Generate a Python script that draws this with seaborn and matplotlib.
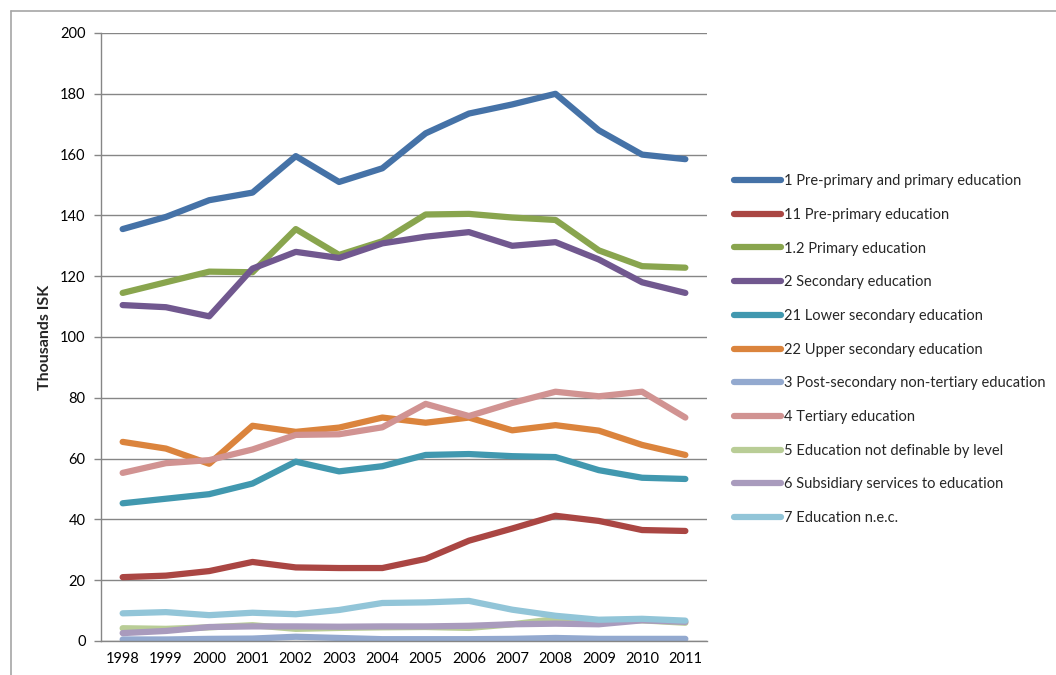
import numpy as np
import pandas as pd
import matplotlib.pyplot as plt
import seaborn as sns
from matplotlib.lines import Line2D

sns.set_theme(style="white")
plt.rcParams['font.family'] = ['Lato', 'DejaVu Sans']

years = list(range(1998, 2012))

labels = [
    "1 Pre-primary and primary education",
    "11 Pre-primary education",
    "1.2 Primary education",
    "2 Secondary education",
    "21 Lower secondary education",
    "22 Upper secondary education",
    "3 Post-secondary non-tertiary education",
    "4 Tertiary education",
    "5 Education not definable by level",
    "6 Subsidiary services to education",
    "7 Education n.e.c.",
]

pre_and_primary = [135.5, 139.5, 145.0, 147.5, 159.5, 151.0, 155.5, 167.0, 173.5, 176.5, 180.0, 168.0, 160.0, 158.5]
pre_primary = [21.0, 21.5, 23.0, 26.0, 24.2, 24.0, 24.0, 27.0, 33.0, 37.0, 41.2, 39.5, 36.5, 36.2]
primary = [114.5, 118.0, 121.5, 121.3, 135.5, 127.0, 131.5, 140.3, 140.5, 139.3, 138.5, 128.5, 123.3, 122.8]
secondary = [110.5, 109.8, 106.8, 122.5, 128.0, 126.0, 130.8, 133.0, 134.5, 130.0, 131.2, 125.5, 118.0, 114.5]
lower_secondary = [45.3, 46.8, 48.3, 51.8, 59.0, 55.8, 57.5, 61.2, 61.5, 60.8, 60.5, 56.2, 53.7, 53.3]
upper_secondary = [65.5, 63.3, 58.3, 70.8, 68.8, 70.2, 73.5, 71.8, 73.5, 69.3, 71.0, 69.2, 64.5, 61.2]
post_secondary = [0.5, 0.5, 0.7, 0.8, 1.4, 1.0, 0.6, 0.6, 0.6, 0.7, 1.0, 0.7, 0.7, 0.7]
tertiary = [55.3, 58.5, 59.5, 63.0, 67.8, 68.0, 70.3, 78.0, 74.0, 78.3, 82.0, 80.5, 82.0, 73.5]
not_definable = [4.2, 4.0, 4.5, 5.2, 4.0, 4.3, 4.5, 4.6, 4.3, 5.5, 7.2, 6.5, 6.8, 6.0]
subsidiary = [2.6, 3.3, 4.6, 4.8, 4.8, 4.7, 4.8, 4.8, 5.0, 5.5, 5.7, 5.5, 6.8, 6.3]
nec = [9.1, 9.5, 8.5, 9.3, 8.8, 10.2, 12.5, 12.7, 13.2, 10.3, 8.3, 7.0, 7.3, 6.7]

series = [pre_and_primary, pre_primary, primary, secondary, lower_secondary,
          upper_secondary, post_secondary, tertiary, not_definable, subsidiary, nec]

colors = ["#4572A7", "#AA4643", "#89A54E", "#71588F", "#4198AF", "#DB843D",
          "#93A9CF", "#D19392", "#B9CD96", "#A99BBD", "#92C5D8"]

df = pd.DataFrame({
    "year": np.tile(years, len(labels)),
    "series": np.repeat(labels, len(years)),
    "value": np.concatenate(series),
})

fig = plt.figure(figsize=(10.56, 6.75), dpi=100)
ax = fig.add_axes([101 / 1056, 1 - 641 / 675, 606 / 1056, 608 / 675])

sns.lineplot(data=df, x="year", y="value", hue="series", hue_order=labels,
             palette=colors, linewidth=4.5, sort=False, legend=False, ax=ax,
             solid_capstyle="round", solid_joinstyle="round")

ax.set_xlim(1997.5, 2011.5)
ax.set_ylim(0, 200)
ax.set_yticks(range(0, 201, 20))
ax.set_xticks(years)
ax.set_xticklabels([str(y) for y in years])
ax.set_xticks(np.arange(1997.5, 2012, 1), minor=True)
ax.tick_params(axis="x", which="major", length=0, labelsize=10.5, pad=8, colors="black")
ax.tick_params(axis="x", which="minor", length=5, width=1, color="#868686", direction="out")
ax.tick_params(axis="y", which="major", length=5, width=1, color="#868686",
               direction="out", labelsize=10.5, pad=6, labelcolor="black", left=True)
ax.grid(axis="y", color="#868686", linewidth=1)
ax.grid(axis="x", visible=False)
for side in ["top", "right"]:
    ax.spines[side].set_visible(False)
for side in ["left", "bottom"]:
    ax.spines[side].set_color("#868686")
    ax.spines[side].set_linewidth(1)
ax.set_xlabel("")
ax.set_ylabel("Thousands ISK", fontsize=11.5, fontweight="bold", labelpad=6)

handles = [Line2D([0], [0], color=c, linewidth=4.5, solid_capstyle="round") for c in colors]
fig.legend(handles, labels, loc="center left", bbox_to_anchor=(0.695, 0.482),
           frameon=False, fontsize=10.5, handlelength=3.2, handletextpad=0.2,
           labelspacing=1.35, borderpad=0, borderaxespad=0)

fig.add_artist(Line2D([11 / 1056, 11 / 1056], [0, 1 - 11 / 675], color="#A6A6A6", linewidth=1.2))
fig.add_artist(Line2D([11 / 1056, 1], [1 - 11 / 675, 1 - 11 / 675], color="#A6A6A6", linewidth=1.2))

fig.savefig("out.png", dpi=100)
